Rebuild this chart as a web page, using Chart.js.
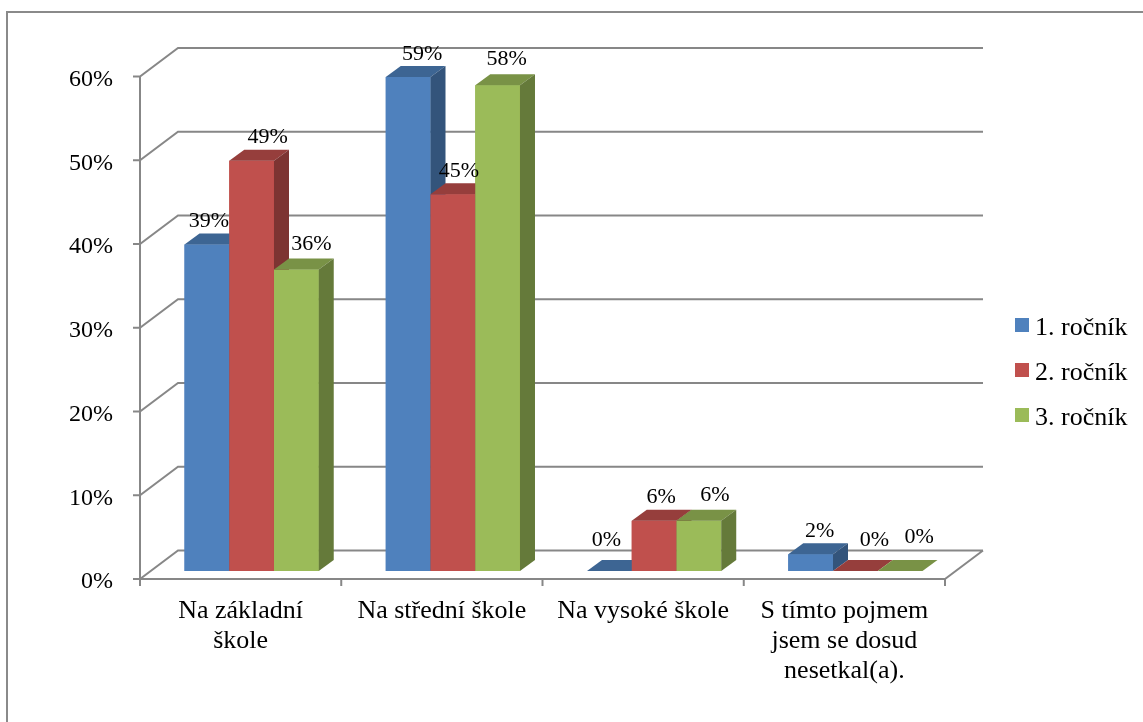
<!DOCTYPE html>
<html>
<head>
<meta charset="utf-8">
<script src="https://cdn.jsdelivr.net/npm/chart.js@4.4.1/dist/chart.umd.min.js"></script>
<style>
  html, body { margin: 0; padding: 0; background: #fff; }
  canvas { display: block; }
</style>
</head>
<body>
<canvas id="chart" width="1143" height="722"></canvas>
<script>
// kde se žáci s pojmem setkali, podle ročníku (v %)
const categories = [
  ["Na základní", "škole"],
  "Na střední škole",
  "Na vysoké škole",
  ["S tímto pojmem", "jsem se dosud", "nesetkal(a)."]
];
const seriesNames = ["1. ročník", "2. ročník", "3. ročník"];
const rocnik1 = [39, 59, 0, 2];
const rocnik2 = [49, 45, 6, 0];
const rocnik3 = [36, 58, 6, 0];
const yTicks = [0, 10, 20, 30, 40, 50, 60];

// barvy: čelo, vršek, bok
const faceColors = ["#4F81BD", "#C0504D", "#9BBB59"];
const topColors  = ["#3D6593", "#963E3C", "#799246"];
const sideColors = ["#33547B", "#7D3432", "#657A3A"];

// posun popisků nad sloupci (jen kvůli překryvům)
const labelDx = [[2, 14, -3, 9], [16, 6, 7, 19], [15, 9, 16, 19]];
const labelDy = [-17, -17.5, -20];

const FONT = '"Liberation Serif", "Times New Roman", serif';
const GRID = "#878787";
const FRONT = { x: -11, y: 8 };       // přední hrana podlahy vůči rovině sloupců
const DEPTH = { x: 38, y: -28.5 };    // hloubka podlahy (zepředu dozadu)
const BAR_DEPTH = { x: 15, y: -11 };  // hloubka jednoho sloupce

function poly(ctx, pts, color) {
  ctx.fillStyle = color;
  ctx.beginPath();
  ctx.moveTo(pts[0][0], pts[0][1]);
  for (let i = 1; i < pts.length; i++) ctx.lineTo(pts[i][0], pts[i][1]);
  ctx.closePath();
  ctx.fill();
}

/* stěny, podlaha, mřížka a 3D sloupce */
const box3d = {
  id: "box3d",
  beforeDraw(chart) {
    const ctx = chart.ctx;
    ctx.save();
    ctx.strokeStyle = "#8a8a8a";
    ctx.lineWidth = 2;
    ctx.beginPath();
    ctx.moveTo(7, chart.height);
    ctx.lineTo(7, 12);
    ctx.lineTo(chart.width, 12);
    ctx.stroke();
    ctx.restore();
  },
  beforeDatasetsDraw(chart) {
    const { ctx, chartArea: a, scales: { y } } = chart;
    const fx = a.left + FRONT.x;
    const rx = a.right + FRONT.x;
    const f0 = y.getPixelForValue(0) + FRONT.y;
    const fTop = y.getPixelForValue(yTicks[yTicks.length - 1]) + FRONT.y;

    ctx.save();
    ctx.strokeStyle = GRID;
    ctx.lineWidth = 2;
    ctx.beginPath();
    yTicks.forEach(v => {
      const fy = y.getPixelForValue(v) + FRONT.y;
      ctx.moveTo(fx - 7, fy);
      ctx.lineTo(fx, fy);
      ctx.lineTo(fx + DEPTH.x, fy + DEPTH.y);
      ctx.lineTo(rx + DEPTH.x, fy + DEPTH.y);
    });
    // svislá osa a přední + pravá hrana podlahy
    ctx.moveTo(fx, fTop);
    ctx.lineTo(fx, f0);
    ctx.lineTo(rx, f0);
    ctx.lineTo(rx + DEPTH.x, f0 + DEPTH.y);
    // značky kategorií
    const step = a.width / categories.length;
    for (let i = 0; i <= categories.length; i++) {
      const tx = a.left + i * step + FRONT.x;
      ctx.moveTo(tx, f0);
      ctx.lineTo(tx, f0 + 7);
    }
    ctx.stroke();
    ctx.restore();
  },
  afterDatasetsDraw(chart) {
    const ctx = chart.ctx;
    const metas = chart.data.datasets.map((_, d) => chart.getDatasetMeta(d));
    ctx.save();
    // po kategoriích zleva doprava, aby bok sloupce zakryl až další sloupec
    for (let i = 0; i < categories.length; i++) {
      metas.forEach((meta, d) => {
        const el = meta.data[i];
        const { x, y, base, width } = el.getProps(["x", "y", "base", "width"], true);
        const l = x - width / 2, r = x + width / 2;
        const bx = BAR_DEPTH.x, by = BAR_DEPTH.y;
        poly(ctx, [[l, y], [r, y], [r, base], [l, base]], faceColors[d]);
        poly(ctx, [[l, y], [r, y], [r + bx, y + by], [l + bx, y + by]], topColors[d]);
        poly(ctx, [[r, y], [r + bx, y + by], [r + bx, base + by], [r, base]], sideColors[d]);
      });
    }
    // hodnoty nad sloupci
    ctx.fillStyle = "#000";
    ctx.font = "22px " + FONT;
    ctx.textAlign = "center";
    ctx.textBaseline = "alphabetic";
    metas.forEach((meta, d) => {
      const values = chart.data.datasets[d].data;
      meta.data.forEach((el, i) => {
        const v = values[i];
        const dy = labelDy[d] + (v === 0 ? -8 : 0);
        ctx.fillText(v + "%", el.x + labelDx[d][i], el.y + dy);
      });
    });
    ctx.restore();
  },
  afterDraw(chart) {
    // legenda vpravo
    const ctx = chart.ctx;
    ctx.save();
    ctx.font = "26px " + FONT;
    ctx.textAlign = "left";
    ctx.textBaseline = "alphabetic";
    let ly = 335;
    chart.data.datasets.forEach(ds => {
      ctx.fillStyle = ds.backgroundColor;
      ctx.fillRect(1015, ly - 17, 14, 14);
      ctx.fillStyle = "#000";
      ctx.fillText(ds.label, 1035, ly);
      ly += 45;
    });
    ctx.restore();
  }
};

const seriesData = [rocnik1, rocnik2, rocnik3];

new Chart(document.getElementById("chart"), {
  type: "bar",
  data: {
    labels: categories,
    datasets: seriesData.map((vals, d) => ({
      label: seriesNames[d],
      data: vals,
      backgroundColor: faceColors[d],
      borderWidth: 0,
      categoryPercentage: 0.667,
      barPercentage: 1
    }))
  },
  options: {
    responsive: false,
    animation: false,
    layout: { padding: { left: 0, top: 68.5, right: 187, bottom: 0 } },
    plugins: {
      legend: { display: false },
      tooltip: { enabled: false }
    },
    scales: {
      x: {
        grid: { display: false, drawTicks: false },
        border: { display: false },
        ticks: {
          color: "#000",
          font: { family: FONT, size: 26, lineHeight: "30px" },
          padding: 25,
          labelOffset: FRONT.x,
          maxRotation: 0,
          autoSkip: false
        },
        afterFit(scale) { scale.height = 151; }
      },
      y: {
        min: 0,
        max: 60,
        grid: { display: false, drawTicks: false },
        border: { display: false },
        ticks: {
          stepSize: 10,
          color: "#000",
          font: { family: FONT, size: 24 },
          padding: 38,
          labelOffset: 11,
          callback: v => v + "%"
        },
        afterFit(scale) { scale.width = 151; }
      }
    }
  },
  plugins: [box3d]
});
</script>
</body>
</html>
